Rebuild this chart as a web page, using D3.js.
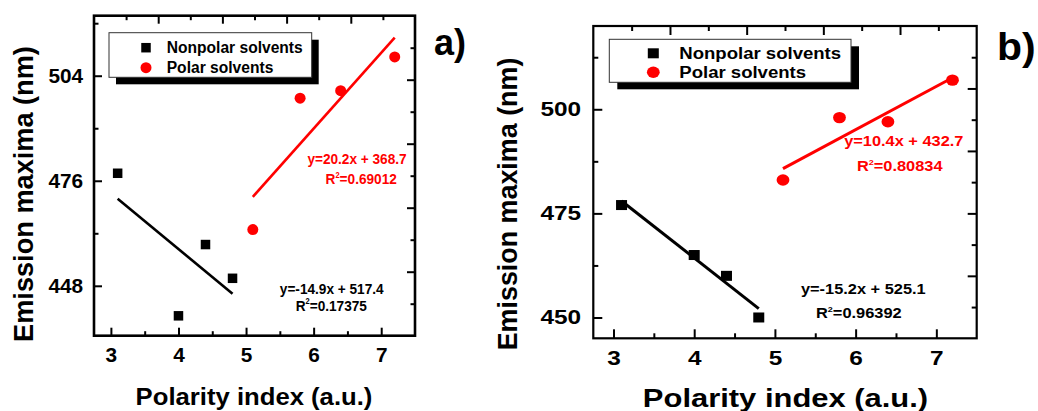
<!DOCTYPE html>
<html>
<head>
<meta charset="utf-8">
<script src="https://cdn.jsdelivr.net/npm/d3@7"></script>
<style>
  html, body { margin: 0; padding: 0; background: #fff; }
  svg { display: block; }
  text { font-family: "Liberation Sans", Arial, Helvetica, sans-serif; font-weight: bold; }
</style>
</head>
<body>
<svg id="chart" width="1038" height="411"></svg>
<script>
// Solvent polarity index (x) for each group
const polarityNonpolar = [3.1, 4.0, 4.4, 4.8];
const polarityPolar = [5.1, 5.8, 6.4, 7.2];

// Emission maxima (nm), panel a
const emissionA_nonpolar = [478, 440, 459, 450];
const emissionA_polar = [463, 498, 500, 509];

// Emission maxima (nm), panel b
const emissionB_nonpolar = [477, 465, 460, 450];
const emissionB_polar = [483, 498, 497, 507];

// Linear fits [nonpolar, polar]
const fitSlopeA = [-14.9, 20.2];
const fitInterceptA = [517.4, 368.7];
const fitR2A = ["0.17375", "0.69012"];
const fitSlopeB = [-15.2, 10.4];
const fitInterceptB = [525.1, 432.7];
const fitR2B = ["0.96392", "0.80834"];

// Axis ticks
const xTicks = [3, 4, 5, 6, 7];
const xMinorTicks = [3.5, 4.5, 5.5, 6.5];
const yTicksA = [448, 476, 504];
const yMinorTicksA = [462, 490, 518];
const yTicksB = [450, 475, 500];
const yMinorTicksB = [462.5, 487.5, 512.5];

const legendLabels = ["Nonpolar solvents", "Polar solvents"];
const axisTitleX = "Polarity index (a.u.)";
const axisTitleY = "Emission maxima (nm)";

const svg = d3.select("#chart");
const RED = "#ff0000";

function label(parent, str, x, y, o) {
  const g = parent.append("g")
    .attr("transform", `translate(${x},${y})${o.rot ? ` rotate(${o.rot})` : ""} scale(${o.sx || 1},1)`);
  return g.append("text")
    .attr("text-anchor", o.anchor || "start")
    .attr("font-size", o.size)
    .attr("fill", o.fill || "#000")
    .text(str);
}

function r2label(parent, value, x, y, o) {
  const g = parent.append("g")
    .attr("transform", `translate(${x},${y}) scale(${o.sx || 1},1)`);
  const t = g.append("text")
    .attr("text-anchor", "middle")
    .attr("font-size", o.size)
    .attr("fill", o.fill);
  t.append("tspan").text("R");
  t.append("tspan").attr("font-size", o.size * 0.55).attr("dy", -o.size * 0.42).text("2");
  t.append("tspan").attr("dy", o.size * 0.42).text("=" + value);
}

function eqText(m, b) {
  return "y=" + m.toFixed(1) + "x + " + b.toFixed(1);
}

function drawPanel(c) {
  const g = svg.append("g");
  const x = d3.scaleLinear().domain([2.75, 7.5]).range([c.left, c.right]);
  const y = d3.scaleLinear().domain(c.yDomain).range([c.bottom, c.top]);
  const top = d3.scaleLinear().domain([0, 10]).range([c.left, c.right]);
  const right = d3.scaleLinear().domain([0, 10]).range([c.bottom, c.top]);

  const styleAxis = (sel) => {
    sel.select(".domain").remove();
    sel.selectAll("line").attr("stroke", "#000").attr("stroke-width", c.tickW);
  };

  // bottom axis (major + minor)
  g.append("g").attr("transform", `translate(0,${c.bottom})`)
    .call(d3.axisBottom(x).tickValues(xTicks).tickSizeInner(-c.major).tickSizeOuter(0)
      .tickPadding(c.xPad).tickFormat(d3.format("d")))
    .call(styleAxis)
    .call(s => s.selectAll("text")
      .attr("font-size", c.tickFont).attr("fill", "#000")
      .attr("font-family", "Liberation Sans, Arial, sans-serif").attr("font-weight", "bold")
      .attr("transform", `scale(${c.sx},1)`));
  g.append("g").attr("transform", `translate(0,${c.bottom})`)
    .call(d3.axisBottom(x).tickValues(xMinorTicks).tickSizeInner(-c.minor).tickSizeOuter(0).tickFormat(""))
    .call(styleAxis);

  // left axis (major + minor)
  g.append("g").attr("transform", `translate(${c.left},0)`)
    .call(d3.axisLeft(y).tickValues(c.yTicks).tickSizeInner(-c.major).tickSizeOuter(0)
      .tickPadding(c.yPad).tickFormat(d3.format("d")))
    .call(styleAxis)
    .call(s => s.selectAll("text")
      .attr("font-size", c.tickFont).attr("fill", "#000")
      .attr("font-family", "Liberation Sans, Arial, sans-serif").attr("font-weight", "bold")
      .attr("transform", `scale(${c.sx},1)`));
  g.append("g").attr("transform", `translate(${c.left},0)`)
    .call(d3.axisLeft(y).tickValues(c.yMinor).tickSizeInner(-c.minor).tickSizeOuter(0).tickFormat(""))
    .call(styleAxis);

  // top and right mirror axes
  const evens = d3.range(2, 10, 2), odds = d3.range(1, 10, 2);
  g.append("g").attr("transform", `translate(0,${c.top})`)
    .call(d3.axisTop(top).tickValues(evens).tickSizeInner(-c.major).tickSizeOuter(0).tickFormat(""))
    .call(styleAxis);
  g.append("g").attr("transform", `translate(0,${c.top})`)
    .call(d3.axisTop(top).tickValues(odds).tickSizeInner(-c.minor).tickSizeOuter(0).tickFormat(""))
    .call(styleAxis);
  g.append("g").attr("transform", `translate(${c.right},0)`)
    .call(d3.axisRight(right).tickValues(evens).tickSizeInner(-c.major).tickSizeOuter(0).tickFormat(""))
    .call(styleAxis);
  g.append("g").attr("transform", `translate(${c.right},0)`)
    .call(d3.axisRight(right).tickValues(odds).tickSizeInner(-c.minor).tickSizeOuter(0).tickFormat(""))
    .call(styleAxis);

  // frame
  g.append("rect")
    .attr("x", c.left).attr("y", c.top)
    .attr("width", c.right - c.left).attr("height", c.bottom - c.top)
    .attr("fill", "none").attr("stroke", "#000").attr("stroke-width", c.frameW);

  // fit lines
  const fitRanges = [[polarityNonpolar[0], polarityNonpolar[3]], [polarityPolar[0], polarityPolar[3]]];
  const colors = ["#000", RED];
  fitRanges.forEach((r, i) => {
    const pts = r.map(v => [x(v), y(c.slope[i] * v + c.intercept[i])]);
    g.append("path")
      .attr("d", d3.line()(pts))
      .attr("stroke", colors[i]).attr("stroke-width", c.fitW).attr("fill", "none");
  });

  // nonpolar squares
  g.selectAll(null).data(d3.zip(polarityNonpolar, c.nonpolar)).join("rect")
    .attr("x", d => x(d[0]) - c.sqW / 2).attr("y", d => y(d[1]) - c.sqH / 2)
    .attr("width", c.sqW).attr("height", c.sqH).attr("fill", "#000");

  // polar circles
  g.selectAll(null).data(d3.zip(polarityPolar, c.polar)).join("ellipse")
    .attr("cx", d => x(d[0])).attr("cy", d => y(d[1]))
    .attr("rx", c.cRx).attr("ry", c.cRy).attr("fill", RED);

  // legend
  const L = c.legend;
  g.append("rect").attr("x", L.x + L.sh[0]).attr("y", L.y + L.sh[1])
    .attr("width", L.w).attr("height", L.h).attr("fill", "#000");
  g.append("rect").attr("x", L.x).attr("y", L.y).attr("width", L.w).attr("height", L.h)
    .attr("fill", "#fff").attr("stroke", "#333").attr("stroke-width", 1);
  g.append("rect").attr("x", L.mx - c.sqW / 2).attr("y", L.y1 - c.sqH / 2)
    .attr("width", c.sqW).attr("height", c.sqH).attr("fill", "#000");
  g.append("ellipse").attr("cx", L.mx).attr("cy", L.y2).attr("rx", c.cRx).attr("ry", c.cRy).attr("fill", RED);
  label(g, legendLabels[0], L.tx, L.y1 + L.font * 0.36, { size: L.font, sx: L.sx });
  label(g, legendLabels[1], L.tx, L.y2 + L.font * 0.36, { size: L.font, sx: L.sx });

  // fit annotations
  const A = c.ann;
  label(g, eqText(c.slope[0], c.intercept[0]), A.k[0], A.k[1], { size: A.size, sx: A.sx, anchor: "middle" });
  r2label(g, c.r2[0], A.k[2], A.k[3], { size: A.size, sx: A.sx, fill: "#000" });
  label(g, eqText(c.slope[1], c.intercept[1]), A.r[0], A.r[1], { size: A.size, sx: A.sx, anchor: "middle", fill: RED });
  r2label(g, c.r2[1], A.r[2], A.r[3], { size: A.size, sx: A.sx, fill: RED });

  // axis titles
  label(g, axisTitleX, c.xt[0], c.xt[1], { size: c.xt[2], sx: c.xt[3], anchor: "middle" });
  label(g, axisTitleY, c.yt[0], c.yt[1], { size: c.yt[2], sx: c.yt[3], anchor: "middle", rot: -90 });

  // panel tag
  label(g, c.tag[0], c.tag[1], c.tag[2], { size: c.tag[3], sx: c.tag[4] });
}

drawPanel({
  left: 94, right: 415, top: 15.7, bottom: 335.7,
  yDomain: [434.7, 520], yTicks: yTicksA, yMinor: yMinorTicksA,
  major: 8, minor: 4.5, tickW: 2, frameW: 2.6, fitW: 2.6,
  tickFont: 20, sx: 1.04, xPad: 12.5, yPad: 10.5,
  nonpolar: emissionA_nonpolar, polar: emissionA_polar,
  slope: fitSlopeA, intercept: fitInterceptA, r2: fitR2A,
  sqW: 9.5, sqH: 9.5, cRx: 5.5, cRy: 5.5,
  legend: { x: 109, y: 32.7, w: 202.7, h: 44.6, sh: [7, 7], mx: 146, y1: 47.7, y2: 67.7, tx: 166.7, font: 15.6, sx: 1 },
  ann: { size: 15.4, sx: 0.885, k: [331.7, 294, 331.3, 310.7], r: [357, 164.3, 361.2, 184.3] },
  xt: [254, 405, 24, 1.07],
  yt: [33, 194, 28, 0.97],
  tag: ["a)", 434, 55, 36, 1.0]
});

drawPanel({
  left: 593.3, right: 976.7, top: 26, bottom: 338.3,
  yDomain: [445, 520], yTicks: yTicksB, yMinor: yMinorTicksB,
  major: 9, minor: 5, tickW: 2, frameW: 2.2, fitW: 3,
  tickFont: 20, sx: 1.22, xPad: 12.5, yPad: 10,
  nonpolar: emissionB_nonpolar, polar: emissionB_polar,
  slope: fitSlopeB, intercept: fitInterceptB, r2: fitR2B,
  sqW: 11, sqH: 10, cRx: 6.4, cRy: 5.7,
  legend: { x: 609.3, y: 39.3, w: 241.7, h: 43, sh: [8, 7], mx: 653.3, y1: 53.3, y2: 72.3, tx: 679.3, font: 16, sx: 1.16 },
  ann: { size: 14.5, sx: 1.13, k: [863.3, 294, 858.8, 318.3], r: [903.8, 146, 899.7, 170.7] },
  xt: [785.5, 406.5, 26, 1.19],
  yt: [516.5, 204, 28, 0.96],
  tag: ["b)", 997, 60, 39, 1.05]
});
</script>
</body>
</html>
